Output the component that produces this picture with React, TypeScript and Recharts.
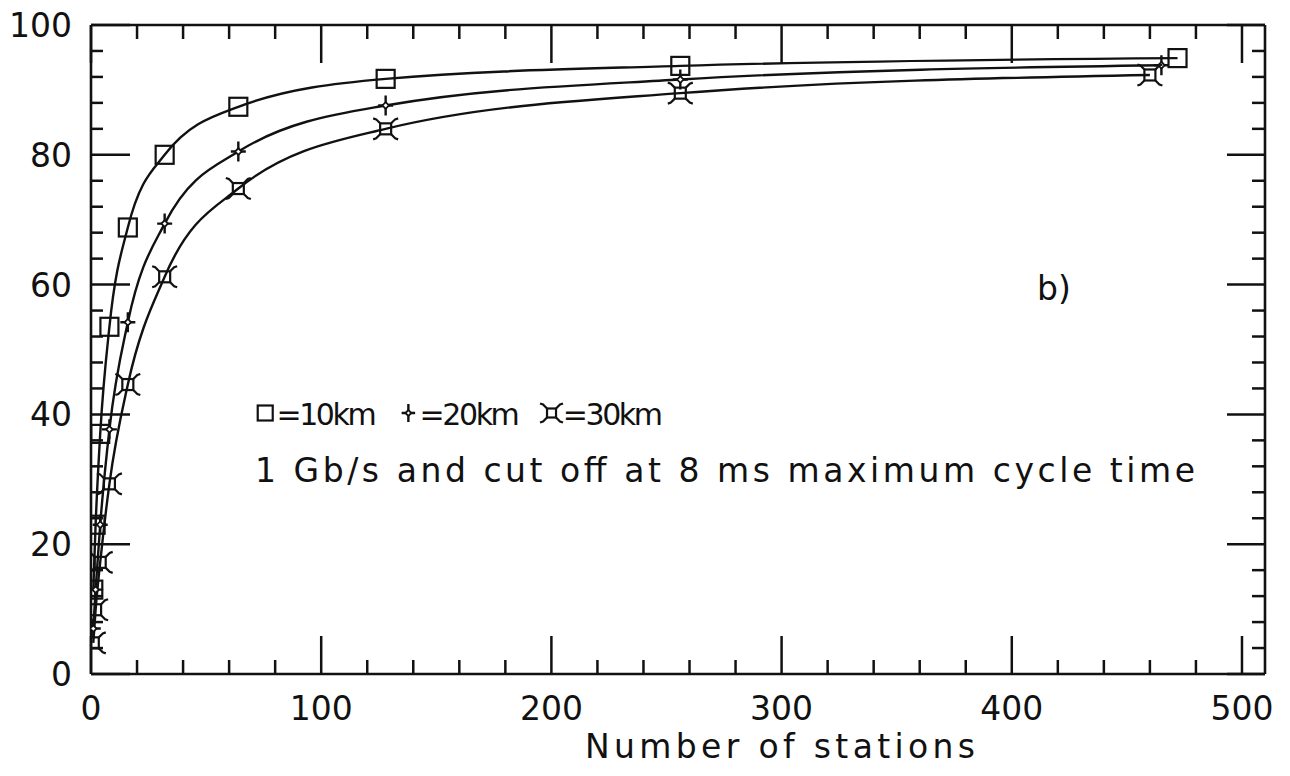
import React from 'react';
import { LineChart, Line, XAxis, YAxis, Legend } from 'recharts';

// ---- data ----
const stations10km = [1, 2, 4, 8, 16, 32, 64, 128, 256, 472];
const efficiency10km = [13, 23, 37, 53.5, 68.8, 80, 87.4, 91.7, 93.7, 94.9];

const stations20km = [1, 2, 4, 8, 16, 32, 64, 128, 256, 465];
const efficiency20km = [7, 13, 23, 37.7, 54.2, 69.4, 80.5, 87.6, 91.6, 93.8];

const stations30km = [1, 2, 4, 8, 16, 32, 64, 128, 256, 460];
const efficiency30km = [4.8, 9.9, 17.2, 29.3, 44.6, 61.2, 74.8, 84, 89.5, 92.3];

const xTicks = [0, 20, 40, 60, 80, 100, 120, 140, 160, 180, 200, 220, 240, 260, 280, 300, 320, 340, 360, 380, 400, 420, 440, 460, 480, 500];
const xMajorTicks = [0, 100, 200, 300, 400, 500];
const yTicks = [0, 4, 8, 12, 16, 20, 24, 28, 32, 36, 40, 44, 48, 52, 56, 60, 64, 68, 72, 76, 80, 84, 88, 92, 96, 100];
const yMajorTicks = [0, 20, 40, 60, 80, 100];

const xTitle = 'Number of stations';
const legendLabels = ['=10km', '=20km', '=30km'];
const subtitle = '1 Gb/s and cut off at 8 ms maximum cycle time';
const panelTag = 'b)';

const FONT = "'DejaVu Sans', 'Liberation Sans', sans-serif";
const INK = '#111';
const FS = 33;

const toPoints = (xs: number[], ys: number[]) => xs.map((x, i) => ({ x, y: ys[i] }));
const series10 = toPoints(stations10km, efficiency10km);
const series20 = toPoints(stations20km, efficiency20km);
const series30 = toPoints(stations30km, efficiency30km);

// ---- marker shapes ----
const SquareMark = ({ cx, cy, s = 9 }: any) => (
  <rect x={cx - s} y={cy - s} width={2 * s} height={2 * s} fill="none" stroke={INK} strokeWidth={2.2} />
);

const StarMark = ({ cx, cy, s = 10 }: any) => {
  const h = s * 0.75;
  const d = s * 0.33;
  return (
    <g>
      <path d={`M${cx},${cy - s} L${cx},${cy + s} M${cx - h},${cy} L${cx + h},${cy}`} stroke={INK} strokeWidth={2.4} fill="none" />
      <path d={`M${cx},${cy - d} L${cx + d},${cy} L${cx},${cy + d} L${cx - d},${cy} Z`} stroke={INK} strokeWidth={1.8} fill="#fff" />
    </g>
  );
};

const CrossSqMark = ({ cx, cy, s = 5.5 }: any) => {
  const a = s + 4;
  const b = s + 7;
  const c = s + 5;
  const arms = [
    [1, 1],
    [1, -1],
    [-1, 1],
    [-1, -1],
  ]
    .map(([sx, sy]) => `M${cx + sx * s},${cy + sy * s} L${cx + sx * a},${cy + sy * a} L${cx + sx * b},${cy + sy * c}`)
    .join(' ');
  return (
    <g>
      <rect x={cx - s} y={cy - s} width={2 * s} height={2 * s} fill="none" stroke={INK} strokeWidth={2.2} />
      <path d={arms} stroke={INK} strokeWidth={2.2} fill="none" />
    </g>
  );
};

const dotSquare = (p: any) => <SquareMark key={`sq-${p.index}`} cx={p.cx} cy={p.cy} />;
const dotStar = (p: any) => <StarMark key={`st-${p.index}`} cx={p.cx} cy={p.cy} />;
const dotCross = (p: any) => <CrossSqMark key={`cs-${p.index}`} cx={p.cx} cy={p.cy} />;

// ---- ticks (drawn inward on all four sides) ----
const BottomTick = (props: any) => {
  const { x, y, payload } = props;
  const v = payload.value;
  const major = xMajorTicks.includes(v);
  return (
    <g>
      <line x1={x} y1={y} x2={x} y2={y - (major ? 38 : 14)} stroke={INK} strokeWidth={2.5} />
      {major && (
        <text x={x} y={y + 46} textAnchor="middle" fontFamily={FONT} fontSize={FS} fill={INK}>
          {v}
        </text>
      )}
    </g>
  );
};

const TopTick = (props: any) => {
  const { x, y, payload } = props;
  const major = xMajorTicks.includes(payload.value);
  return <line x1={x} y1={y} x2={x} y2={y + (major ? 38 : 14)} stroke={INK} strokeWidth={2.5} />;
};

const LeftTick = (props: any) => {
  const { x, y, payload } = props;
  const v = payload.value;
  const major = yMajorTicks.includes(v);
  return (
    <g>
      <line x1={x} y1={y} x2={x + (major ? 39 : 12)} y2={y} stroke={INK} strokeWidth={2.5} />
      {major && (
        <text x={x - 19} y={y + 12} textAnchor="end" fontFamily={FONT} fontSize={FS} fill={INK}>
          {v}
        </text>
      )}
    </g>
  );
};

const RightTick = (props: any) => {
  const { x, y, payload } = props;
  const major = yMajorTicks.includes(payload.value);
  return <line x1={x} y1={y} x2={x - (major ? 38 : 13)} y2={y} stroke={INK} strokeWidth={2.5} />;
};

const XTitle = (props: any) => {
  const vb = props.viewBox || { x: 91, y: 674, width: 1174, height: 102 };
  return (
    <text
      x={vb.x + vb.width / 2 + 102}
      y={vb.y + 84}
      textAnchor="middle"
      fontFamily={FONT}
      fontSize={FS}
      fill={INK}
      textLength={390}
      lengthAdjust="spacing"
    >
      {xTitle}
    </text>
  );
};

// ---- legend / annotations ----
const CELL = 20.45;
const Annotations = () => {
  const x0 = 255;
  const base = 425;
  const symY = base - 12;
  const markers = [
    (cx: number) => <SquareMark cx={cx} cy={symY} s={7.5} />,
    (cx: number) => <StarMark cx={cx} cy={symY} s={9} />,
    (cx: number) => <CrossSqMark cx={cx} cy={symY} s={4.5} />,
  ];
  return (
    <svg width={1290} height={776} style={{ position: 'absolute', left: 0, top: 0 }}>
      {legendLabels.map((lab, i) => {
        const start = x0 + i * 7 * CELL;
        return (
          <g key={lab}>
            {markers[i](start + CELL / 2)}
            <text
              x={start + CELL + 1}
              y={base}
              fontFamily={FONT}
              fontSize={30}
              fill={INK}
              textLength={5 * CELL - 2}
              lengthAdjust="spacing"
            >
              {lab}
            </text>
          </g>
        );
      })}
      <text x={x0} y={482} fontFamily={FONT} fontSize={FS} fill={INK} textLength={940} lengthAdjust="spacing">
        {subtitle}
      </text>
      <text x={1037} y={300} fontFamily={FONT} fontSize={FS} fill={INK}>
        {panelTag}
      </text>
    </svg>
  );
};

export default function App() {
  const axisLine = { stroke: INK, strokeWidth: 2.6 };
  return (
    <div style={{ position: 'absolute', left: 0, top: 0, width: 1290, height: 776, background: '#fff' }}>
      <LineChart width={1290} height={776} margin={{ top: 0, right: 0, bottom: 0, left: 0 }}>
        <XAxis
          xAxisId="bottom"
          type="number"
          dataKey="x"
          domain={[0, 510]}
          ticks={xTicks}
          interval={0}
          height={102}
          tickSize={0}
          tickMargin={0}
          tickLine={false}
          axisLine={axisLine}
          tick={BottomTick}
          label={XTitle}
          allowDataOverflow
        />
        <XAxis
          xAxisId="top"
          orientation="top"
          type="number"
          dataKey="x"
          domain={[0, 510]}
          ticks={xTicks}
          interval={0}
          height={25}
          tickSize={0}
          tickMargin={0}
          tickLine={false}
          axisLine={axisLine}
          tick={TopTick}
          allowDataOverflow
        />
        <YAxis
          yAxisId="left"
          type="number"
          domain={[0, 100]}
          ticks={yTicks}
          interval={0}
          width={91}
          tickSize={0}
          tickMargin={0}
          tickLine={false}
          axisLine={axisLine}
          tick={LeftTick}
          allowDataOverflow
        />
        <YAxis
          yAxisId="right"
          orientation="right"
          type="number"
          domain={[0, 100]}
          ticks={yTicks}
          interval={0}
          width={25}
          tickSize={0}
          tickMargin={0}
          tickLine={false}
          axisLine={axisLine}
          tick={RightTick}
          allowDataOverflow
        />
        <Legend
          verticalAlign="middle"
          align="center"
          layout="horizontal"
          wrapperStyle={{ left: 0, top: 0, width: 1290, height: 776, pointerEvents: 'none' }}
          content={() => <Annotations />}
        />
        <Line
          xAxisId="bottom"
          yAxisId="left"
          data={series10}
          dataKey="y"
          name="10km"
          type="monotone"
          stroke={INK}
          strokeWidth={2.4}
          dot={dotSquare}
          activeDot={false}
          isAnimationActive={false}
        />
        <Line
          xAxisId="bottom"
          yAxisId="left"
          data={series20}
          dataKey="y"
          name="20km"
          type="monotone"
          stroke={INK}
          strokeWidth={2.4}
          dot={dotStar}
          activeDot={false}
          isAnimationActive={false}
        />
        <Line
          xAxisId="bottom"
          yAxisId="left"
          data={series30}
          dataKey="y"
          name="30km"
          type="monotone"
          stroke={INK}
          strokeWidth={2.4}
          dot={dotCross}
          activeDot={false}
          isAnimationActive={false}
        />
      </LineChart>
    </div>
  );
}
